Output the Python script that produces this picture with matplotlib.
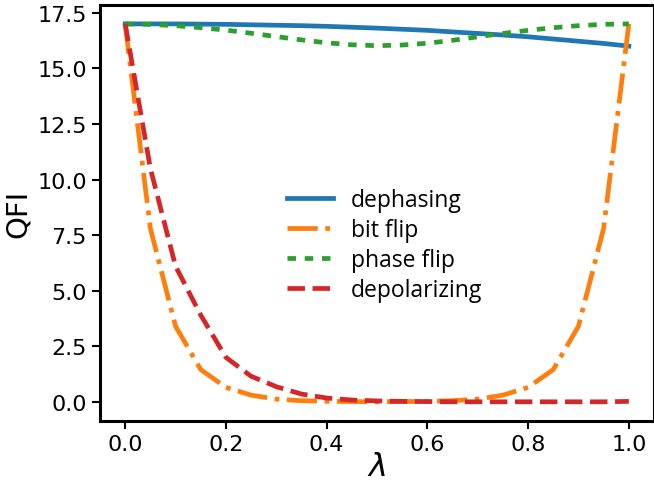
import numpy as np
import matplotlib
matplotlib.use("Agg")
import matplotlib.pyplot as plt

# --------------------------
# Data
# --------------------------
lam = [0.0, 0.05, 0.1, 0.15, 0.2, 0.25, 0.3, 0.35, 0.4, 0.45, 0.5,
       0.55, 0.6, 0.65, 0.7, 0.75, 0.8, 0.85, 0.9, 0.95, 1.0]

dephasing = [17.0, 17.0, 17.0, 16.99, 16.98, 16.96, 16.94, 16.92, 16.89, 16.85, 16.81,
             16.76, 16.71, 16.64, 16.57, 16.50, 16.42, 16.32, 16.22, 16.12, 16.0]
bit_flip = [17.0, 7.8, 3.4, 1.45, 0.65, 0.3, 0.12, 0.05, 0.02, 0.01, 0.0,
            0.01, 0.02, 0.05, 0.12, 0.3, 0.65, 1.45, 3.4, 7.8, 17.0]
phase_flip = [17.0, 16.98, 16.92, 16.83, 16.72, 16.58, 16.43, 16.28, 16.15, 16.06, 16.02,
              16.05, 16.13, 16.26, 16.42, 16.57, 16.71, 16.83, 16.92, 16.98, 17.0]
depolarizing = [17.0, 10.5, 6.1, 3.9, 2.0, 1.15, 0.68, 0.35, 0.17, 0.08, 0.04,
                0.02, 0.01, 0.0, 0.0, 0.0, 0.0, 0.0, 0.0, 0.0, 0.02]

# --------------------------
# Plot
# --------------------------
fig = plt.figure(figsize=(6.54, 4.89), dpi=100)
ax = fig.add_axes([100 / 654, 1 - 421.7 / 489, 554 / 654, (421.7 - 6) / 489])

lw = 3.4
ax.plot(lam, dephasing, '-', color='tab:blue', lw=lw, label='dephasing')
ax.plot(lam, bit_flip, '-.', color='tab:orange', lw=lw, label='bit flip')
ax.plot(lam, phase_flip, color='tab:green', lw=lw, dashes=(1.8, 1.85), label='phase flip')
ax.plot(lam, depolarizing, '--', color='tab:red', lw=lw, label='depolarizing')

ax.set_xlabel(r'$\lambda$', fontsize=23, labelpad=-2)
ax.set_ylabel('QFI', fontsize=21)
ax.set_yticks(np.arange(0, 17.6, 2.5))
ax.set_xticks(np.arange(0, 1.01, 0.2))
ax.tick_params(labelsize=16, width=1.5, length=6)
for s in ax.spines.values():
    s.set_linewidth(2.2)

ax.legend(loc='center', bbox_to_anchor=(0.514, 0.423), frameon=False,
          prop={'family': 'Open Sans', 'size': 16.5}, handlelength=2.0,
          labelspacing=0.26)

fig.savefig('out.png', dpi=100)
